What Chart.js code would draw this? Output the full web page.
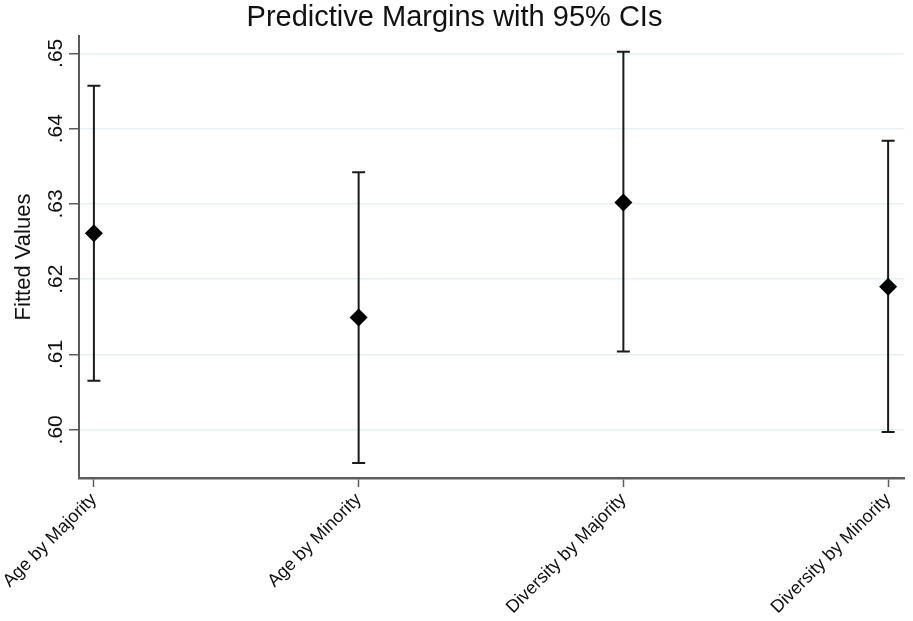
<!DOCTYPE html>
<html>
<head>
<meta charset="utf-8">
<script src="https://cdn.jsdelivr.net/npm/chart.js@4/dist/chart.umd.min.js"></script>
<style>
  body { margin: 0; background: #fff; }
  canvas { display: block; }
</style>
</head>
<body>
<canvas id="myChart" width="913" height="621"></canvas>
<script>
// values
const categories = ['Age by Majority', 'Age by Minority', 'Diversity by Majority', 'Diversity by Minority'];
const margins = [0.6261, 0.6149, 0.6302, 0.6190];
const lowerCI = [0.6065, 0.5956, 0.6104, 0.5997];
const upperCI = [0.6457, 0.6342, 0.6502, 0.6384];
const yTicks = [0.60, 0.61, 0.62, 0.63, 0.64, 0.65];
const yTickLabels = ['.60', '.61', '.62', '.63', '.64', '.65'];

const FONT = 'Liberation Sans, Arial, Helvetica, sans-serif';
const AXIS = '#5c5c5c';

let points = categories.map((c, i) => ({ x: i, y: margins[i] }));

// error bars drawn under the diamonds
const errorBars = {
    id: 'errorBars',
    beforeDatasetsDraw(chart) {
        const ctx = chart.ctx;
        const xs = chart.scales.x;
        const ys = chart.scales.y;
        ctx.save();
        ctx.strokeStyle = '#1a1a1a';
        ctx.lineWidth = 2;
        for (let i = 0; i < categories.length; i++) {
            const x = xs.getPixelForValue(i);
            const top = ys.getPixelForValue(upperCI[i]);
            const bot = ys.getPixelForValue(lowerCI[i]);
            ctx.beginPath();
            ctx.moveTo(x, top);
            ctx.lineTo(x, bot);
            ctx.moveTo(x - 6.5, top);
            ctx.lineTo(x + 6.5, top);
            ctx.moveTo(x - 6.5, bot);
            ctx.lineTo(x + 6.5, bot);
            ctx.stroke();
        }
        ctx.restore();
    }
};

// y tick labels are turned 90 degrees like the original
const yLabels = {
    id: 'yLabels',
    afterDraw(chart) {
        const ctx = chart.ctx;
        const ys = chart.scales.y;
        ctx.save();
        ctx.font = '21px ' + FONT;
        ctx.fillStyle = '#111';
        ctx.textAlign = 'center';
        ctx.textBaseline = 'alphabetic';
        yTicks.forEach((v, i) => {
            const y = ys.getPixelForValue(v);
            ctx.save();
            ctx.translate(62, y);
            ctx.rotate(-Math.PI / 2);
            ctx.fillText(yTickLabels[i], 0, 0);
            ctx.restore();
        });
        ctx.restore();
    }
};

const config = {
    type: 'scatter',
    data: {
        datasets: [{
            data: points,
            pointStyle: 'rectRot',
            radius: 9,
            backgroundColor: '#000',
            borderColor: '#000',
            borderWidth: 0
        }]
    },
    options: {
        responsive: false,
        animation: false,
        layout: { padding: { left: 0, right: 4, top: 0, bottom: 0 } },
        plugins: {
            legend: { display: false },
            tooltip: { enabled: false },
            title: {
                display: true,
                text: 'Predictive Margins with 95% CIs',
                color: '#111',
                font: { family: FONT, size: 29, weight: 'normal' },
                padding: { top: 1, bottom: 0.2 }
            }
        },
        scales: {
            x: {
                type: 'linear',
                min: -0.0563,
                max: 3.06,
                afterBuildTicks: (scale) => {
                    scale.ticks = categories.map((c, i) => ({ value: i }));
                },
                afterFit: (scale) => {
                    scale.height = 143;
                    scale.paddingLeft = 0;
                    scale.paddingRight = 0;
                },
                ticks: {
                    autoSkip: false,
                    minRotation: 45,
                    maxRotation: 45,
                    padding: 2,
                    color: '#111',
                    font: { family: FONT, size: 18 },
                    callback: (v) => categories[v]
                },
                grid: {
                    drawOnChartArea: false,
                    drawTicks: true,
                    tickLength: 9,
                    tickColor: AXIS,
                    tickWidth: 1.5
                },
                border: { color: AXIS, width: 2.5 }
            },
            y: {
                min: 0.5936,
                max: 0.6523,
                afterBuildTicks: (scale) => {
                    scale.ticks = yTicks.map(v => ({ value: v }));
                },
                afterFit: (scale) => {
                    scale.width = 79;
                    scale.paddingTop = 0;
                    scale.paddingBottom = 0;
                },
                ticks: { display: false },
                grid: {
                    color: '#e6eff2',
                    lineWidth: 1.5,
                    drawTicks: true,
                    tickLength: 10,
                    tickColor: AXIS,
                    tickWidth: 1.5
                },
                border: { color: AXIS, width: 2 },
                title: {
                    display: true,
                    text: 'Fitted Values',
                    color: '#111',
                    font: { family: FONT, size: 22 },
                    padding: { top: 11, bottom: 0 }
                }
            }
        }
    },
    plugins: [errorBars, yLabels]
};

let ctx = document.getElementById('myChart');
let myChart = new Chart(ctx, config);
</script>
</body>
</html>
